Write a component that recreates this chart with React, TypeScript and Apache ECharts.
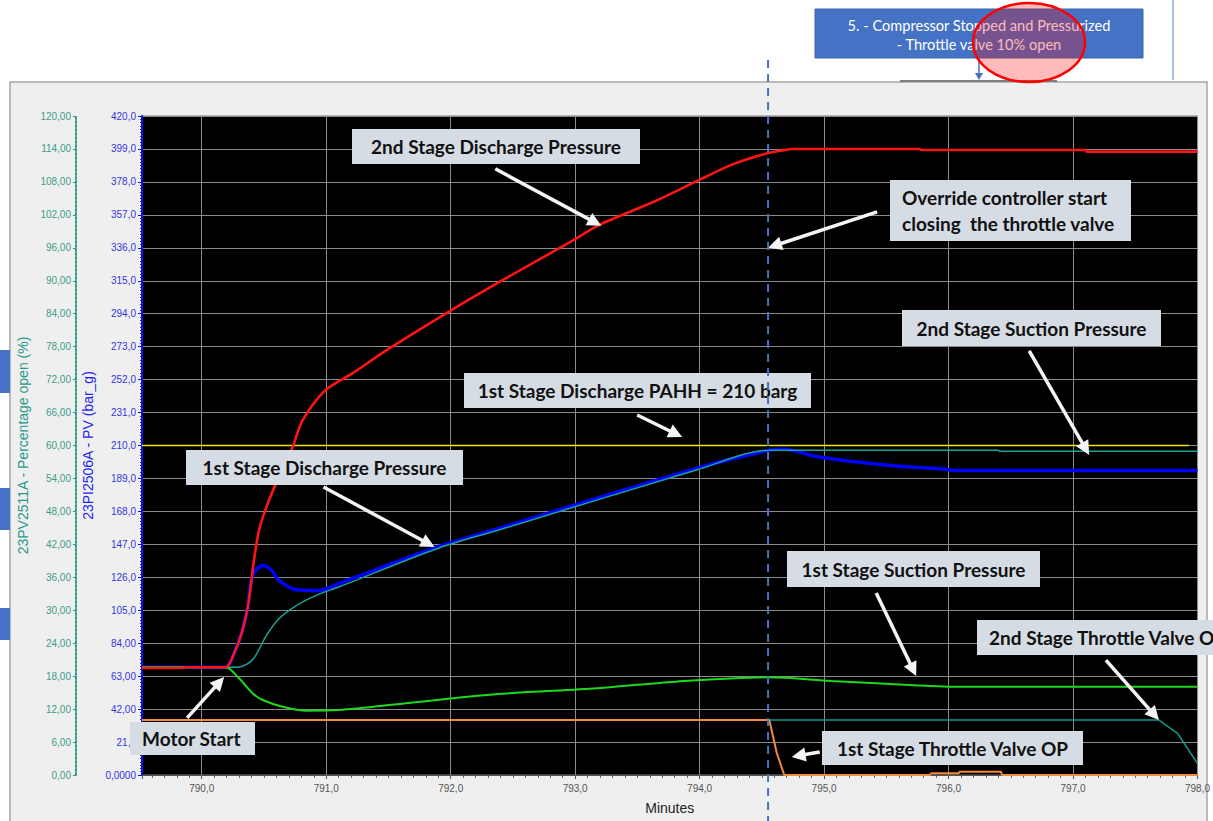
import React, { useEffect, useRef } from "react";
import * as echarts from "echarts";

// ---- Trend data (time in minutes) ----
// 2nd stage discharge pressure (bar_g)
const dis2Time = [789.52, 789.85, 789.86, 790.19, 790.26, 790.32, 790.37, 790.42, 790.46, 790.53, 790.62, 790.73, 790.81, 790.99, 791.21, 791.51, 792.0, 792.42, 792.99, 793.19, 793.65, 793.99, 794.26, 794.53, 794.66, 794.75, 795.77, 795.78, 797.1, 797.11, 798.0];
const dis2Value = [68.2, 68.2, 68.7, 68.7, 77.6, 90.3, 107, 137, 156, 173, 190, 209, 226, 245, 256, 272, 296, 315.5, 341, 350.5, 366, 379, 389, 396, 398, 399, 399, 398.3, 398.3, 397.3, 397.3];

// 1st stage discharge pressure (bar_g)
const dis1Time = [789.52, 790.19, 790.26, 790.32, 790.37, 790.4, 790.44, 790.49, 790.56, 790.62, 790.76, 790.94, 791.1, 791.9, 792.38, 793.98, 794.56, 794.68, 794.92, 795.18, 795.58, 795.98, 796.06, 798.0];
const dis1Value = [68.6, 68.6, 77.6, 90.3, 107, 125, 131, 133.5, 130.5, 124, 118, 117.5, 122, 145.5, 157, 195.5, 207, 207.6, 203.3, 200.3, 197, 194.8, 194, 194];

// 2nd stage suction pressure (bar_g)
const suc2Time = [789.52, 790.19, 790.3, 790.41, 790.52, 790.62, 790.76, 790.92, 791.1, 791.9, 792.38, 793.98, 794.56, 796.4, 796.41, 798.0];
const suc2Value = [68.6, 68.6, 68.8, 73.6, 89, 99.6, 108, 114.5, 119.8, 144.5, 156, 194.5, 207, 207, 206.3, 206.3];

// 1st stage suction pressure (bar_g)
const suc1Time = [789.52, 790.19, 790.3, 790.41, 790.49, 790.65, 790.84, 791.1, 791.64, 792.38, 793.18, 793.81, 794.56, 795.06, 795.69, 796.0, 798.0];
const suc1Value = [68.6, 68.6, 61.6, 52, 47.8, 43.5, 41, 41.4, 45.7, 51.6, 55.3, 59.5, 62.3, 59.9, 57.4, 56.3, 56.3];

// 1st stage discharge PAHH (bar_g)
const pahhTime = [789.52, 797.93];
const pahhValue = [210, 210];

// 1st stage throttle valve output (% open)
const tv1Time = [789.52, 794.56, 794.62, 794.68, 795.85, 795.86, 796.08, 796.09, 796.42, 796.43, 798.0];
const tv1Value = [10, 10, 4, 0, 0, 0.3, 0.3, 0.6, 0.6, 0, 0];

// 2nd stage throttle valve output (% open)
const tv2Time = [789.52, 797.69, 797.84, 798.0];
const tv2Value = [10, 10, 7.6, 2.1];

// Moment the override controller starts closing the throttle valve
const overrideTime = 794.55;

// Pressure axis tick labels, bottom to top (step 21)
const pressureTickLabels = ["0,0000", "21,0", "42,00", "63,00", "84,00", "105,0", "126,0", "147,0", "168,0", "189,0", "210,0", "231,0", "252,0", "273,0", "294,0", "315,0", "336,0", "357,0", "378,0", "399,0", "420,0"];

const zip = (t: number[], v: number[]) => t.map((x, i) => [x, v[i]]);

// Callout boxes: box in page pixels, tip in data space, tail offset from tip
const callouts = [
  { lines: ["2nd Stage Discharge Pressure"], box: [352, 129, 288, 35], align: "center", tip: [793.21, 350], tail: [-106, -57] },
  { lines: ["Override controller start", "closing  the throttle valve"], box: [890, 180, 241, 61], align: "left", tip: [794.55, 336], tail: [109, -36] },
  { lines: ["2nd Stage Suction Pressure"], box: [902, 310, 259, 36], align: "center", tip: [797.13, 204], tail: [-60, -104] },
  { lines: ["1st Stage Discharge PAHH = 210 barg"], box: [464, 373, 347, 35], align: "center", tip: [793.86, 215.4], tail: [-45, -22] },
  { lines: ["1st Stage Discharge Pressure"], box: [186, 450, 277, 35], align: "center", tip: [791.87, 145.3], tail: [-111, -60] },
  { lines: ["1st Stage Suction Pressure"], box: [787, 551, 253, 36], align: "center", tip: [795.74, 63.1], tail: [-40, -83] },
  { lines: ["2nd Stage Throttle Valve OP"], box: [977, 620, 260, 35], align: "left", tip: [797.69, 35], tail: [-53, -60] },
  { lines: ["Motor Start"], box: [130, 722, 125, 33], align: "left", tip: [790.18, 62.5], tail: [-37, 41] },
  { lines: ["1st Stage Throttle Valve OP"], box: [822, 731, 261, 34], align: "center", tip: [794.74, 11.5], tail: [28, -5] },
];

const CALLOUT_FONT = "Lato";

function arrow(tip: number[], tail: number[], color: string, width: number, headLen: number, headW: number, z: number) {
  const dx = tip[0] - tail[0];
  const dy = tip[1] - tail[1];
  const len = Math.hypot(dx, dy) || 1;
  const ux = dx / len, uy = dy / len;
  const nx = -uy, ny = ux;
  const bx = tip[0] - ux * headLen, by = tip[1] - uy * headLen;
  return [
    { type: "line", z, shape: { x1: tail[0], y1: tail[1], x2: bx + ux * 2, y2: by + uy * 2 }, style: { stroke: color, lineWidth: width } },
    { type: "polygon", z, shape: { points: [[tip[0], tip[1]], [bx + nx * headW, by + ny * headW], [bx - nx * headW, by - ny * headW]] }, style: { fill: color } },
  ];
}

export default function App() {
  const ref = useRef<HTMLDivElement>(null);

  useEffect(() => {
    if (!ref.current) return;
    const chart = echarts.init(ref.current, undefined, { renderer: "svg" });

    const axisFont = "Liberation Sans";
    const smoothLine = { smooth: 0.3 };
    const option: any = {
      animation: false,
      backgroundColor: "#ffffff",
      grid: { left: 142, top: 116, right: 11, bottom: 46, show: true, backgroundColor: "#000000", borderColor: "#777777", borderWidth: 1 },
      xAxis: {
        type: "value",
        min: 789.52,
        max: 798,
        minInterval: 1,
        maxInterval: 1,
        name: "Minutes",
        nameLocation: "middle",
        nameGap: 26,
        nameTextStyle: { color: "#222222", fontSize: 14, fontFamily: axisFont, verticalAlign: "top" },
        axisLine: { show: true, onZero: false, lineStyle: { color: "#555555" } },
        axisTick: { show: true, length: 4, lineStyle: { color: "#555555" } },
        minorTick: { show: true, splitNumber: 10, length: 3, lineStyle: { color: "#666666" } },
        axisLabel: {
          color: "#555555",
          fontSize: 10,
          fontFamily: axisFont,
          margin: 8,
          formatter: (v: number) => (Math.abs(v - Math.round(v)) < 1e-6 ? v.toFixed(1).replace(".", ",") : ""),
        },
        splitLine: { show: true, lineStyle: { color: "#8c8c8c", width: 1 } },
      },
      yAxis: [
        {
          type: "value",
          min: 0,
          max: 420,
          interval: 21,
          position: "left",
          offset: 0,
          name: "23PI2506A - PV (bar_g)",
          nameLocation: "middle",
          nameGap: 44,
          nameTextStyle: { color: "#2424ee", fontSize: 14, fontFamily: axisFont },
          axisLine: { show: true, lineStyle: { color: "#1010e8", width: 2 } },
          axisTick: { show: true, length: 4, lineStyle: { color: "#1010e8" } },
          minorTick: { show: true, splitNumber: 10, length: 2, lineStyle: { color: "#1a1ae8" } },
          axisLabel: {
            color: "#3535dd",
            fontSize: 10,
            fontFamily: axisFont,
            margin: 6,
            formatter: (v: number) => pressureTickLabels[Math.round(v / 21)] ?? "",
          },
          splitLine: { show: true, lineStyle: { color: "#8c8c8c", width: 1 } },
        },
        {
          type: "value",
          min: 0,
          max: 120,
          interval: 6,
          position: "left",
          offset: 66,
          name: "23PV2511A - Percentage open (%)",
          nameLocation: "middle",
          nameGap: 46,
          nameTextStyle: { color: "#2a9a88", fontSize: 14, fontFamily: axisFont },
          axisLine: { show: true, lineStyle: { color: "#2a9a88", width: 2, type: "dotted" } },
          axisTick: { show: true, length: 3, lineStyle: { color: "#2a9a88" } },
          minorTick: { show: false },
          axisLabel: {
            color: "#3c9c8a",
            fontSize: 10,
            fontFamily: axisFont,
            margin: 5,
            formatter: (v: number) => v.toFixed(2).replace(".", ","),
          },
          splitLine: { show: false },
        },
      ],
      series: [
        { name: "1st Stage Discharge PAHH", type: "line", yAxisIndex: 0, data: zip(pahhTime, pahhValue), symbol: "none", lineStyle: { color: "#e8e800", width: 1.5 }, z: 2 },
        { name: "1st Stage Discharge Pressure", type: "line", yAxisIndex: 0, data: zip(dis1Time, dis1Value), symbol: "none", ...smoothLine, lineStyle: { color: "#0000ff", width: 3.5 }, z: 3 },
        { name: "2nd Stage Suction Pressure", type: "line", yAxisIndex: 0, data: zip(suc2Time, suc2Value), symbol: "none", ...smoothLine, lineStyle: { color: "#1aa396", width: 1.5 }, z: 4 },
        { name: "1st Stage Suction Pressure", type: "line", yAxisIndex: 0, data: zip(suc1Time, suc1Value), symbol: "none", ...smoothLine, lineStyle: { color: "#1ed81e", width: 2 }, z: 4 },
        { name: "2nd Stage Throttle Valve OP", type: "line", yAxisIndex: 1, data: zip(tv2Time, tv2Value), symbol: "none", lineStyle: { color: "#13968a", width: 1.5 }, z: 4 },
        { name: "1st Stage Throttle Valve OP", type: "line", yAxisIndex: 1, data: zip(tv1Time, tv1Value), symbol: "none", lineStyle: { color: "#f58a3c", width: 2 }, z: 5 },
        { name: "2nd Stage Discharge Pressure", type: "line", yAxisIndex: 0, data: zip(dis2Time, dis2Value), symbol: "none", ...smoothLine, lineStyle: { color: "#ff1414", width: 2.6 }, z: 6 },
      ],
    };
    chart.setOption(option);

    const toPx = (p: number[]) => chart.convertToPixel({ xAxisIndex: 0, yAxisIndex: 0 }, p) as number[];

    const graphics: any[] = [];

    // grey application frame behind the trend
    graphics.push({ type: "rect", z: -10, shape: { x: 10, y: 82, width: 1197, height: 760 }, style: { fill: "#efefef", stroke: "#a8a8a8", lineWidth: 1.5 } });
    graphics.push({ type: "line", z: -9, shape: { x1: 900, y1: 81, x2: 1057, y2: 81 }, style: { stroke: "#7f7f7f", lineWidth: 2 } });

    // slide shapes peeking at the left edge
    [[350, 43], [488, 42], [608, 32]].forEach(([y, h]) => {
      graphics.push({ type: "rect", z: -9, shape: { x: 0, y, width: 10, height: h }, style: { fill: "#4472c4" } });
    });

    // step box above the trend
    graphics.push({ type: "line", z: 10, shape: { x1: 1173, y1: 0, x2: 1173, y2: 80 }, style: { stroke: "#8faadc", lineWidth: 1.5 } });
    graphics.push({ type: "rect", z: 10, shape: { x: 815, y: 9, width: 328, height: 49 }, style: { fill: "#4472c4", stroke: "#3a64ad", lineWidth: 1 } });
    graphics.push({ type: "text", z: 11, x: 979, y: 25, style: { text: "5. - Compressor Stopped and Pressurized", fill: "#ffffff", fontSize: 14.6, fontFamily: CALLOUT_FONT, align: "center", verticalAlign: "middle" } });
    graphics.push({ type: "text", z: 11, x: 979, y: 44, style: { text: "- Throttle valve 10% open", fill: "#ffffff", fontSize: 14.6, fontFamily: CALLOUT_FONT, align: "center", verticalAlign: "middle" } });
    graphics.push(...arrow([979, 80], [979, 58], "#4472c4", 1.5, 7, 4, 10));
    graphics.push({ type: "ellipse", z: 12, shape: { cx: 1029, cy: 42.5, rx: 56, ry: 39.5 }, style: { fill: "rgba(255,0,0,0.27)", stroke: "#ff0000", lineWidth: 2.5 } });

    // callouts with arrows
    callouts.forEach((c) => {
      const [bx, by, bw, bh] = c.box;
      graphics.push({ type: "rect", z: 50, shape: { x: bx, y: by, width: bw, height: bh }, style: { fill: "#d6dce4" } });
      const lineH = 26;
      const startY = by + bh / 2 - ((c.lines.length - 1) * lineH) / 2;
      c.lines.forEach((ln, i) => {
        graphics.push({
          type: "text",
          z: 51,
          x: c.align === "center" ? bx + bw / 2 : bx + 12,
          y: startY + i * lineH,
          style: { text: ln, fill: "#111111", fontSize: 19, fontWeight: "bold", fontFamily: CALLOUT_FONT, align: c.align, verticalAlign: "middle" },
        });
      });
      const tip = toPx(c.tip);
      const tail = [tip[0] + c.tail[0], tip[1] + c.tail[1]];
      graphics.push(...arrow(tip, tail, "#f4f4f4", 3.5, 14, 7, 52));
    });

    // dashed marker of the override start
    const ox = toPx([overrideTime, 0])[0];
    graphics.push({ type: "line", z: 60, shape: { x1: ox, y1: 60, x2: ox, y2: 821 }, style: { stroke: "#4472c4", lineWidth: 2, lineDash: [8, 6] } });

    chart.setOption({ graphic: graphics });

    return () => chart.dispose();
  }, []);

  return <div ref={ref} style={{ position: "absolute", left: 0, top: 0, width: 1213, height: 821 }} />;
}
